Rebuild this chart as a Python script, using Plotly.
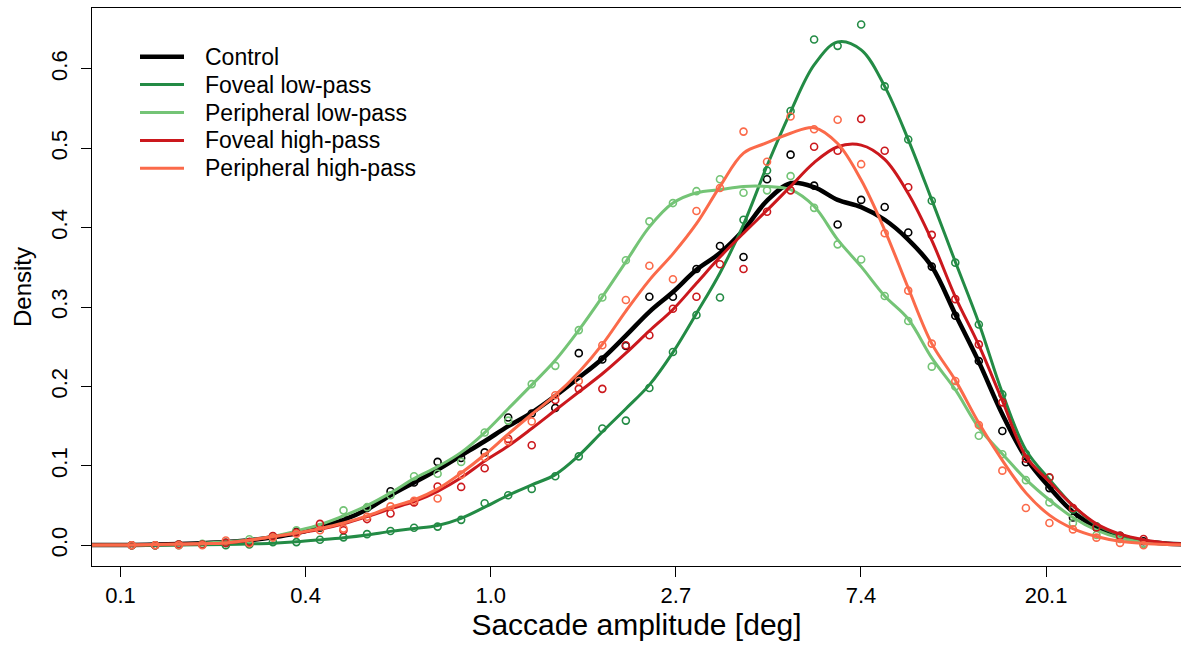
import plotly.graph_objects as go

# log(saccade amplitude) bin centres (natural log units)
bin_x = [-1.9395, -1.8124, -1.6853, -1.5581, -1.4310, -1.3039, -1.1768, -1.0497,
         -0.9225, -0.7954, -0.6683, -0.5412, -0.4141, -0.2869, -0.1598, -0.0327,
         0.0944, 0.2215, 0.3487, 0.4758, 0.6029, 0.7300, 0.8571, 0.9843,
         1.1114, 1.2385, 1.3656, 1.4927, 1.6199, 1.7470, 1.8741, 2.0012,
         2.1283, 2.2555, 2.3826, 2.5097, 2.6368, 2.7639, 2.8911, 3.0182,
         3.1453, 3.2724, 3.3995, 3.5267]
# evaluation grid of the smoothed densities
curve_x = [-2.1937, -2.0666] + bin_x + [3.6538, 3.7809]

names = ["Control", "Foveal low-pass", "Peripheral low-pass",
         "Foveal high-pass", "Peripheral high-pass"]
colors = ["#000000", "#238b45", "#74c476", "#cb181d", "#fb6a4a"]
widths = [4.5, 3, 3, 3, 3]

# histogram densities (points)
pts_control = [0.000, 0.000, 0.001, 0.001, 0.003, 0.004, 0.011, 0.017, 0.022, 0.033,
               0.047, 0.068, 0.079, 0.105, 0.110, 0.117, 0.161, 0.166, 0.173, 0.242,
               0.234, 0.251, 0.313, 0.313, 0.348, 0.377, 0.363, 0.461, 0.492, 0.453,
               0.404, 0.435, 0.426, 0.394, 0.351, 0.289, 0.232, 0.144, 0.1045, 0.072,
               0.035, 0.022, 0.012, 0.005]
pts_fov_low = [0.000, 0.000, 0.000, 0.001, 0.000, 0.001, 0.004, 0.004, 0.007, 0.010,
               0.014, 0.018, 0.022, 0.0235, 0.032, 0.053, 0.063, 0.071, 0.087, 0.112,
               0.147, 0.157, 0.198, 0.2435, 0.290, 0.312, 0.410, 0.472, 0.547, 0.637,
               0.629, 0.656, 0.578, 0.511, 0.434, 0.356, 0.278, 0.190, 0.115, 0.085,
               0.045, 0.024, 0.011, 0.002]
pts_per_low = [0.000, 0.000, 0.001, 0.002, 0.003, 0.0075, 0.010, 0.019, 0.023, 0.044,
               0.048, 0.063, 0.087, 0.090, 0.105, 0.142, 0.157, 0.203, 0.226, 0.271,
               0.312, 0.359, 0.408, 0.431, 0.446, 0.461, 0.444, 0.447, 0.465, 0.425,
               0.379, 0.360, 0.314, 0.2825, 0.225, 0.200, 0.138, 0.1146, 0.082, 0.054,
               0.028, 0.013, 0.008, 0.002]
pts_fov_high = [0.000, 0.000, 0.001, 0.001, 0.003, 0.004, 0.0117, 0.016, 0.027, 0.019,
                0.033, 0.040, 0.054, 0.074, 0.0735, 0.097, 0.134, 0.126, 0.183, 0.197,
                0.197, 0.252, 0.2645, 0.298, 0.313, 0.354, 0.348, 0.420, 0.447, 0.502,
                0.497, 0.537, 0.497, 0.451, 0.391, 0.310, 0.253, 0.180, 0.109, 0.0856,
                0.047, 0.0225, 0.012, 0.008]
pts_per_high = [0.000, 0.000, 0.000, 0.000, 0.006, 0.0025, 0.0097, 0.0145, 0.019, 0.021,
                0.036, 0.049, 0.056, 0.059, 0.089, 0.111, 0.131, 0.156, 0.189, 0.207,
                0.252, 0.309, 0.352, 0.335, 0.421, 0.450, 0.521, 0.483, 0.540, 0.524,
                0.536, 0.480, 0.393, 0.3207, 0.254, 0.207, 0.1515, 0.094, 0.047, 0.028,
                0.020, 0.0096, 0.003, 0.000]

# smoothed density curves
crv_control = [0.0002, 0.0003,
               0.0005, 0.001, 0.0015, 0.0025, 0.004, 0.0065, 0.010, 0.015, 0.023, 0.032,
               0.045, 0.063, 0.079, 0.095, 0.113, 0.131, 0.150, 0.167, 0.188, 0.211,
               0.235, 0.264, 0.294, 0.319, 0.347, 0.368, 0.397, 0.434, 0.456, 0.451,
               0.435, 0.426, 0.410, 0.385, 0.351, 0.291, 0.231, 0.165, 0.110, 0.073,
               0.042, 0.023, 0.012, 0.005,
               0.002, 0.001]
crv_fov_low = [0.0001, 0.0001,
               0.0001, 0.0002, 0.0003, 0.0006, 0.001, 0.0017, 0.0027, 0.0044, 0.0068, 0.0095,
               0.013, 0.0175, 0.021, 0.025, 0.034, 0.048, 0.063, 0.076, 0.089, 0.113,
               0.143, 0.172, 0.202, 0.243, 0.292, 0.343, 0.404, 0.478, 0.546, 0.605,
               0.634, 0.624, 0.578, 0.511, 0.435, 0.357, 0.280, 0.192, 0.120, 0.083,
               0.050, 0.026, 0.013, 0.006,
               0.0025, 0.001]
crv_per_low = [0.0001, 0.0002,
               0.0003, 0.0006, 0.001, 0.0025, 0.0044, 0.0068, 0.011, 0.018, 0.026, 0.037,
               0.050, 0.066, 0.084, 0.099, 0.117, 0.142, 0.172, 0.202, 0.233, 0.271,
               0.313, 0.357, 0.401, 0.431, 0.444, 0.448, 0.452, 0.452, 0.448, 0.427,
               0.385, 0.351, 0.314, 0.285, 0.236, 0.196, 0.148, 0.115, 0.083, 0.057,
               0.035, 0.019, 0.009, 0.0036,
               0.0015, 0.0006]
crv_fov_high = [0.0002, 0.0003,
                0.0005, 0.001, 0.0015, 0.002, 0.003, 0.0065, 0.0105, 0.015, 0.020, 0.027,
                0.036, 0.046, 0.055, 0.068, 0.085, 0.106, 0.125, 0.147, 0.170, 0.193,
                0.216, 0.242, 0.270, 0.297, 0.330, 0.363, 0.393, 0.422, 0.452, 0.482,
                0.502, 0.504, 0.486, 0.443, 0.384, 0.313, 0.252, 0.182, 0.112, 0.080,
                0.050, 0.027, 0.014, 0.007,
                0.003, 0.0012]
crv_per_high = [0.0002, 0.0003,
                0.0005, 0.001, 0.0015, 0.002, 0.003, 0.0065, 0.011, 0.0155, 0.021, 0.028,
                0.037, 0.048, 0.057, 0.071, 0.091, 0.114, 0.140, 0.165, 0.189, 0.218,
                0.253, 0.295, 0.334, 0.367, 0.405, 0.452, 0.494, 0.507, 0.519, 0.526,
                0.506, 0.460, 0.397, 0.324, 0.254, 0.208, 0.154, 0.107, 0.066, 0.038,
                0.021, 0.011, 0.005, 0.0023,
                0.001, 0.0005]

tick_vals = [-2, -1, 0, 1, 2, 3]
tick_text = ["0.1", "0.4", "1.0", "2.7", "7.4", "20.1"]
y_ticks = [0.0, 0.1, 0.2, 0.3, 0.4, 0.5, 0.6]
y_tick_text = ["0.0", "0.1", "0.2", "0.3", "0.4", "0.5", "0.6"]

points = [pts_control, pts_fov_low, pts_per_low, pts_fov_high, pts_per_high]
curves = [crv_control, crv_fov_low, crv_per_low, crv_fov_high, crv_per_high]

FONT = "Liberation Sans, Arial, Helvetica, sans-serif"
W, H = 1181, 646
ML, MR, MT, MB = 92, 0, 8, 80
PW, PH = W - ML - MR, H - MT - MB

fig = go.Figure()
for name, col, w, p, c in zip(names, colors, widths, points, curves):
    fig.add_trace(go.Scatter(
        x=bin_x, y=p, mode="markers", showlegend=False, hoverinfo="skip",
        marker=dict(symbol="circle-open", size=7, color=col, line=dict(width=1.6, color=col))))
    fig.add_trace(go.Scatter(
        x=curve_x, y=c, mode="lines", name=name, showlegend=False,
        line=dict(color=col, width=w, shape="spline", smoothing=1.0)))

# legend (R-style, drawn in paper coordinates)
def px_x(px):
    return (px - ML) / PW

def px_y(py):
    return (H - MB - py) / PH

leg_top, leg_step = 56.7, 27.9
shapes, annotations = [], []
for k, (name, col, w) in enumerate(zip(names, colors, widths)):
    yy = px_y(leg_top + k * leg_step)
    shapes.append(dict(type="line", xref="paper", yref="paper",
                       x0=px_x(140), x1=px_x(184), y0=yy, y1=yy,
                       line=dict(color=col, width=w)))
    annotations.append(dict(xref="paper", yref="paper", x=px_x(203), y=yy,
                            xanchor="left", yanchor="middle", text=name, showarrow=False,
                            font=dict(size=23, family=FONT, color="black")))

fig.update_layout(
    width=W, height=H,
    margin=dict(l=ML, r=MR, t=MT, b=MB),
    paper_bgcolor="white", plot_bgcolor="white",
    font=dict(family=FONT, color="black"),
    showlegend=False,
    shapes=shapes, annotations=annotations,
    xaxis=dict(range=[-2.154, 3.729], tickmode="array", tickvals=tick_vals, ticktext=tick_text,
               showgrid=False, zeroline=False, showline=True, mirror=True,
               linecolor="black", linewidth=1, ticks="outside", ticklen=10, tickwidth=1,
               tickcolor="black", tickfont=dict(size=22, family=FONT, color="black"),
               title=dict(text="Saccade amplitude [deg]", font=dict(size=30, family=FONT, color="black"),
                          standoff=6)),
    yaxis=dict(range=[-0.0261, 0.6767], tickmode="array", tickvals=y_ticks,
               ticktext=y_tick_text,
               showgrid=False, zeroline=False, showline=True, mirror=False,
               linecolor="black", linewidth=1, ticks="outside", ticklen=10, tickwidth=1,
               tickcolor="black", tickangle=-90, ticklabelstandoff=5,
               tickfont=dict(size=22, family=FONT, color="black"),
               title=dict(text="Density", font=dict(size=24, family=FONT, color="black"),
                          standoff=8)),
)

fig.write_html("out.html")
